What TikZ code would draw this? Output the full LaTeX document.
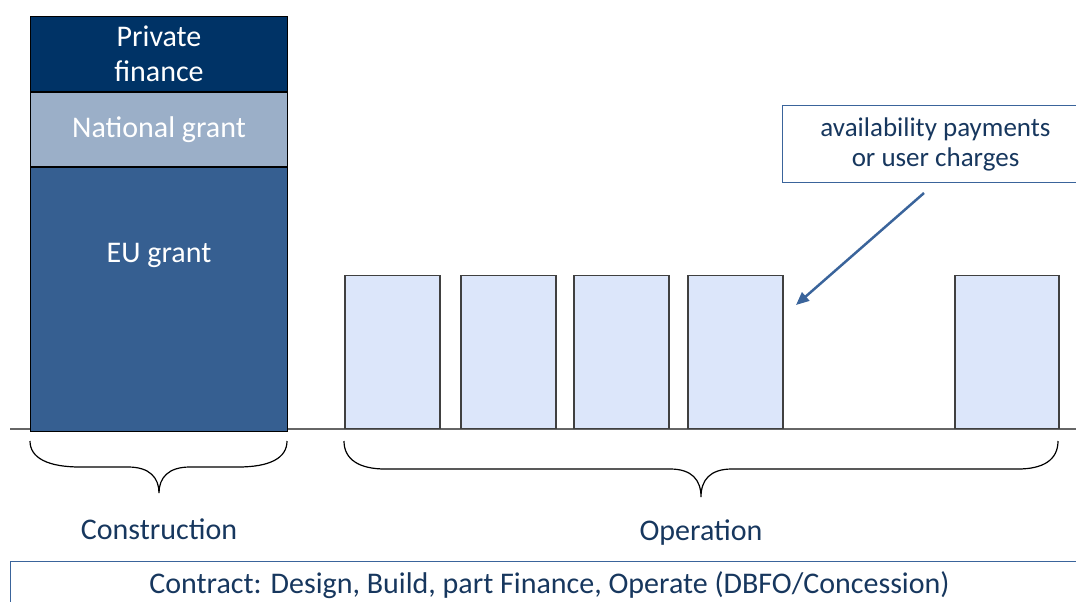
\documentclass[tikz,border=0pt]{standalone}
\usepackage{fontspec}
\setmainfont{Carlito}
\usetikzlibrary{positioning,arrows.meta,calc}

\definecolor{privblue}{RGB}{0,51,102}
\definecolor{natblue}{RGB}{155,175,200}
\definecolor{eublue}{RGB}{54,95,145}
\definecolor{payfill}{RGB}{220,230,250}
\definecolor{payline}{RGB}{64,64,64}
\definecolor{labelblue}{RGB}{23,55,94}
\definecolor{boxblue}{RGB}{58,100,155}

\begin{document}
\begin{tikzpicture}[x=1pt,y=-1pt,
  stack/.style={draw=black, line width=1pt, minimum width=257, inner sep=0, text=white, align=center, font=\fontsize{30}{35}\selectfont},
  paybar/.style={draw=payline, fill=payfill, line width=1.5pt, minimum width=95, minimum height=153, inner sep=0, anchor=south west},
  phase/.style={text=labelblue, font=\fontsize{30}{35}\selectfont},
  infobox/.style={draw=boxblue, line width=1pt, inner sep=0, text=labelblue, align=center, anchor=north west},
  curly/.style={draw=black, line width=1.2pt}]
\path[use as bounding box, clip] (0,0) rectangle (1076,602);

% time axis
\draw[payline!80, line width=2pt] (10,429) -- (1076,429);

% construction funding
\node[stack, fill=privblue, minimum height=75, anchor=north west] (private) at (30,16) {Private\\finance};
\node[stack, fill=natblue, minimum height=74, below=0pt of private] (national) {National grant};
\node[stack, fill=eublue, minimum height=264, below=0pt of national, text depth=93pt] (eu) {EU grant};

% operation payments
\foreach \n/\x in {1/344,2/460,3/573,4/687}
  \node[paybar] (pay\n) at (\x,429) {};
\node[paybar, minimum width=104] (pay5) at (954,429) {};

\node[infobox, minimum width=306, minimum height=77, font=\fontsize{27}{30}\selectfont] (callout) at (782,105) {availability payments\\or user charges};
\coordinate (arrtail) at (924,193);
\coordinate (arrhead) at (796,305);
\draw[boxblue, line width=2.5pt, -{Triangle[length=13pt,width=11pt]}] (arrtail) -- (arrhead);

% braces
\draw[curly] (30,441) .. controls (30,458) and (48,467) .. (80,467) -- (128,467)
  .. controls (150,467) and (159,478) .. (159,493)
  .. controls (159,478) and (168,467) .. (190,467) -- (238,467)
  .. controls (270,467) and (287,458) .. (287,441);
\draw[curly] (344,441) .. controls (344,460) and (360,469) .. (385,469) -- (670,469)
  .. controls (692,469) and (701,480) .. (701,497)
  .. controls (701,480) and (710,469) .. (732,469) -- (1018,469)
  .. controls (1043,469) and (1058,460) .. (1058,441);

\node[phase] (constr) at (159,529) {Construction};
\node[phase] (oper) at (701,533) {Operation};

\node[infobox, minimum width=1078, minimum height=48, font=\fontsize{30}{35}\selectfont] (contract) at (10,561) {Contract: Design, Build, part Finance, Operate (DBFO/Concession)};
\end{tikzpicture}
\end{document}
